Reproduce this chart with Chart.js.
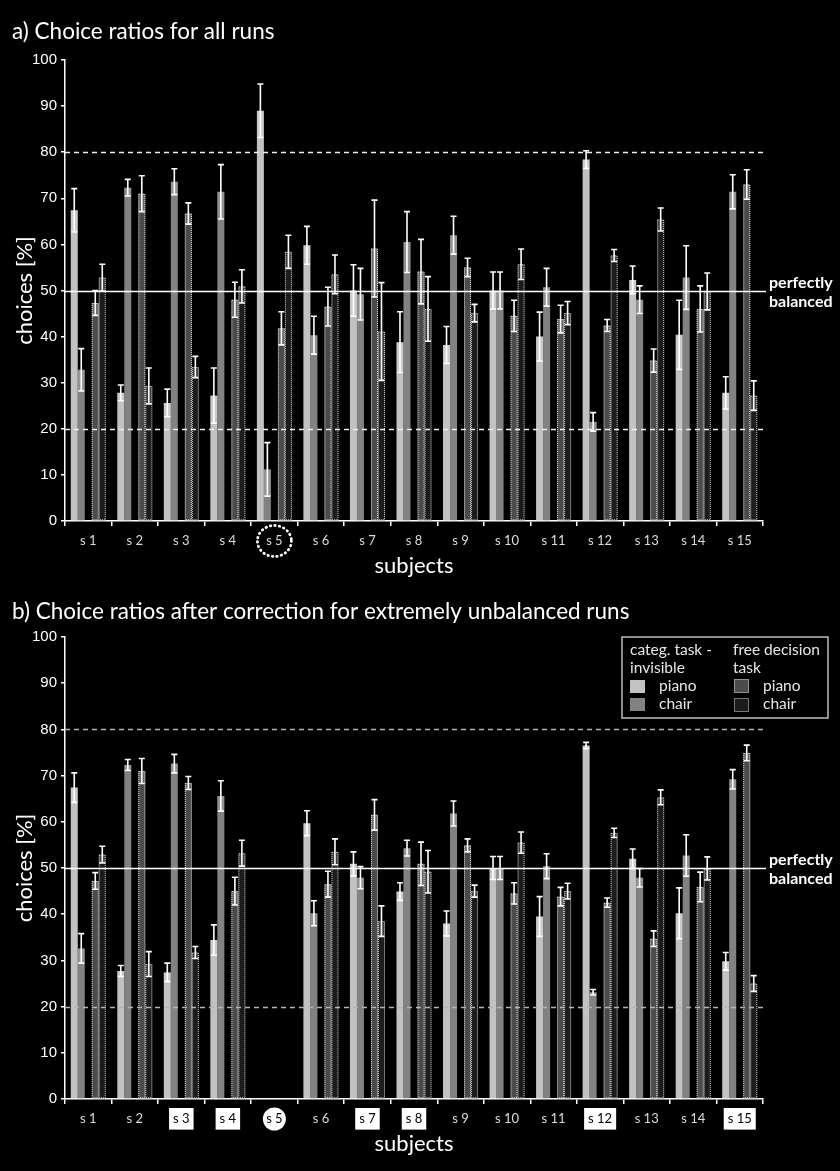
<!DOCTYPE html>
<html>
<head>
<meta charset="utf-8">
<script src="https://cdn.jsdelivr.net/npm/chart.js@4/dist/chart.umd.min.js"></script>
<style>
  html, body { margin: 0; padding: 0; background: #000; }
  canvas { display: block; }
</style>
</head>
<body>
<canvas id="chartA" width="840" height="590"></canvas>
<canvas id="chartB" width="840" height="581"></canvas>
<script>
const subjects = ["s 1", "s 2", "s 3", "s 4", "s 5", "s 6", "s 7", "s 8", "s 9", "s 10", "s 11", "s 12", "s 13", "s 14", "s 15"]
const yTicks = [0, 10, 20, 30, 40, 50, 60, 70, 80, 90, 100]

// a) all runs
const pianoCatA = [67.4, 27.8, 25.6, 27.2, 89.0, 59.8, 50.0, 38.8, 38.2, 50.0, 40.0, 78.4, 52.3, 40.4, 27.8]
const pianoCatErrA = [4.7, 1.7, 3.0, 6.0, 5.8, 4.1, 5.6, 6.6, 4.0, 4.0, 5.3, 1.9, 3.0, 7.5, 3.5]
const chairCatA = [32.8, 72.3, 73.6, 71.4, 11.2, 40.3, 49.2, 60.5, 62.0, 50.0, 50.7, 21.5, 48.0, 52.8, 71.4]
const chairCatErrA = [4.6, 1.8, 2.8, 5.9, 5.8, 4.1, 5.6, 6.6, 4.1, 4.0, 4.1, 2.0, 3.0, 6.9, 3.7]
const pianoFreeA = [47.3, 71.0, 66.7, 48.0, 41.8, 46.5, 59.1, 54.1, 55.0, 44.5, 43.8, 42.4, 34.8, 46.0, 73.0]
const pianoFreeErrA = [2.7, 3.9, 2.3, 3.8, 3.6, 4.2, 10.5, 7.0, 2.0, 3.4, 3.0, 1.3, 2.5, 5.0, 3.2]
const chairFreeA = [52.8, 29.3, 33.4, 50.9, 58.4, 53.5, 41.1, 46.0, 45.1, 55.7, 45.1, 57.6, 65.4, 49.8, 27.2]
const chairFreeErrA = [2.9, 3.9, 2.3, 3.6, 3.6, 4.2, 10.6, 7.0, 1.9, 3.3, 2.5, 1.3, 2.5, 4.0, 3.2]

// b) after correction (s 5 dropped)
const pianoCatB = [67.4, 27.7, 27.4, 34.4, null, 59.7, 50.9, 44.9, 38.0, 50.0, 39.5, 76.5, 52.0, 40.2, 29.8]
const pianoCatErrB = [3.2, 1.2, 2.0, 3.3, null, 2.7, 2.6, 1.9, 2.7, 2.5, 4.3, 0.7, 2.1, 5.5, 1.9]
const chairCatB = [32.6, 72.3, 72.6, 65.6, null, 40.2, 47.9, 54.3, 61.8, 50.0, 50.4, 23.1, 47.9, 52.7, 69.2]
const chairCatErrB = [3.2, 1.2, 2.0, 3.3, null, 2.7, 2.4, 1.7, 2.7, 2.5, 2.7, 0.6, 2.0, 4.5, 2.1]
const pianoFreeB = [47.2, 71.0, 68.4, 45.0, null, 46.5, 61.5, 50.9, 54.9, 44.5, 43.8, 42.5, 34.7, 45.9, 74.9]
const pianoFreeErrB = [1.8, 2.7, 1.4, 3.0, null, 2.8, 3.3, 4.7, 1.4, 2.3, 2.0, 1.0, 1.7, 3.2, 1.7]
const chairFreeB = [52.9, 29.2, 31.7, 53.2, null, 53.5, 38.5, 49.2, 45.0, 55.5, 45.0, 57.6, 65.3, 49.9, 25.0]
const chairFreeErrB = [1.8, 2.7, 1.3, 2.8, null, 2.8, 3.3, 4.6, 1.3, 2.3, 1.7, 1.0, 1.6, 2.5, 1.7]

// subjects whose labels get a white box in panel b
const boxedB = [2, 3, 6, 7, 11, 14]
const droppedSubject = 4

const colPianoCat = "#c2c2c2"
const colChairCat = "#828282"
const colPianoFree = "#4b4b4b"
const colChairFree = "#1c1c1c"

Chart.defaults.font.family = "Lato"
Chart.defaults.color = "#fff"

// dotted outline round the free decision bars
const dottedBars = {
    id: "dottedBars",
    afterDatasetsDraw(chart) {
        const ctx = chart.ctx
        ctx.save()
        ctx.setLineDash([1, 1])
        ctx.lineWidth = 1
        ctx.strokeStyle = "rgba(255,255,255,0.8)"
        chart.data.datasets.forEach((ds, i) => {
            if (!ds.dotted) return
            chart.getDatasetMeta(i).data.forEach((bar, j) => {
                if (ds.data[j] == null) return
                const w = bar.width
                ctx.strokeRect(bar.x - w / 2 + 0.5, bar.y + 0.5, w - 1, bar.base - bar.y - 1)
            })
        })
        ctx.restore()
    }
}

// 20 / 80 dashed, 50 solid + label
const refLines = {
    id: "refLines",
    afterDatasetsDraw(chart, args, opts) {
        const {ctx, chartArea: a, scales: {y}} = chart
        ctx.save()
        ctx.lineWidth = 1.5
        ctx.strokeStyle = opts.dashColor
        ctx.setLineDash([5, 4])
        ;[80, 20].forEach(v => {
            const py = Math.round(y.getPixelForValue(v)) + 0.5
            ctx.beginPath()
            ctx.moveTo(a.left, py)
            ctx.lineTo(a.right, py)
            ctx.stroke()
        })
        ctx.setLineDash([])
        ctx.strokeStyle = "#fff"
        const p50 = Math.round(y.getPixelForValue(50)) + 0.5
        ctx.beginPath()
        ctx.moveTo(a.left, p50)
        ctx.lineTo(a.right + 3, p50)
        ctx.stroke()
        ctx.fillStyle = "#fff"
        ctx.font = "bold 16px Lato"
        ctx.textBaseline = "middle"
        ctx.fillText("perfectly", a.right + 6, p50 - 8.5)
        ctx.fillText("balanced", a.right + 6, p50 + 10)
        ctx.restore()
    }
}

const errorBars = {
    id: "errorBars",
    afterDatasetsDraw(chart) {
        const {ctx, scales: {y}} = chart
        ctx.save()
        chart.data.datasets.forEach((ds, i) => {
            if (!ds.errors) return
            chart.getDatasetMeta(i).data.forEach((bar, j) => {
                const v = ds.data[j], e = ds.errors[j]
                if (v == null || e == null) return
                const hi = y.getPixelForValue(v + e)
                const lo = y.getPixelForValue(v - e)
                const half = bar.width / 2
                ctx.fillStyle = "rgba(255,255,255,0.15)"
                ctx.fillRect(bar.x - half, bar.y, bar.width, lo - bar.y)
                ctx.strokeStyle = "#fff"
                ctx.lineWidth = 1.6
                ctx.beginPath()
                ctx.moveTo(bar.x, hi)
                ctx.lineTo(bar.x, lo)
                ctx.moveTo(bar.x - half + 0.5, hi)
                ctx.lineTo(bar.x + half - 0.5, hi)
                ctx.moveTo(bar.x - half + 0.5, lo)
                ctx.lineTo(bar.x + half - 0.5, lo)
                ctx.stroke()
            })
        })
        ctx.restore()
    }
}

// circle round the s 5 label
const subjectMark = {
    id: "subjectMark",
    beforeDraw(chart, args, opts) {
        const ctx = chart.ctx
        const x = chart.scales.x.getPixelForTick(droppedSubject)
        const y = chart.chartArea.bottom + 20
        ctx.save()
        ctx.beginPath()
        if (opts.style === "dotted") {
            ctx.ellipse(x, y, 17, 15.5, 0, 0, Math.PI * 2)
            ctx.setLineDash([0.5, 4])
            ctx.lineCap = "round"
            ctx.lineWidth = 2.8
            ctx.strokeStyle = "#fff"
            ctx.stroke()
        } else if (opts.style === "filled") {
            ctx.arc(x, y, 11.5, 0, Math.PI * 2)
            ctx.fillStyle = "#fff"
            ctx.fill()
        }
        ctx.restore()
    }
}

const legendBox = {
    id: "legendBox",
    afterDraw(chart, args, opts) {
        if (!opts.show) return
        const {ctx, chartArea: a} = chart
        const ds = chart.data.datasets
        const left = a.right - 141, top = a.top
        ctx.save()
        ctx.strokeStyle = "#bdbdbd"
        ctx.lineWidth = 1.5
        ctx.strokeRect(left, top, 206, 81)
        ctx.fillStyle = "#e6e6e6"
        ctx.font = "15.5px Lato"
        ctx.textBaseline = "middle"
        ctx.fillText("categ. task -", left + 8, top + 13)
        ctx.fillText("invisible", left + 8, top + 31)
        ctx.fillText("piano", left + 37, top + 49)
        ctx.fillText("chair", left + 37, top + 67)
        ctx.fillText("free decision", left + 111, top + 13)
        ctx.fillText("task", left + 111, top + 31)
        ctx.fillText("piano", left + 141, top + 49)
        ctx.fillText("chair", left + 141, top + 67)
        ctx.fillStyle = ds[0].backgroundColor
        ctx.fillRect(left + 8, top + 43, 15, 13)
        ctx.fillStyle = ds[1].backgroundColor
        ctx.fillRect(left + 8, top + 61, 15, 13)
        ctx.fillStyle = ds[3].backgroundColor
        ctx.fillRect(left + 112, top + 42, 15, 14)
        ctx.fillStyle = ds[4].backgroundColor
        ctx.fillRect(left + 112, top + 61, 15, 14)
        ctx.setLineDash([1, 1])
        ctx.lineWidth = 1
        ctx.strokeStyle = "rgba(255,255,255,0.8)"
        ctx.strokeRect(left + 112.5, top + 42.5, 14, 13)
        ctx.strokeRect(left + 112.5, top + 61.5, 14, 13)
        ctx.restore()
    }
}

function makeChart(id, title, series, panel) {
    const isB = panel === "b"
    const datasets = [
        {label: "piano", data: series[0], errors: series[1], backgroundColor: colPianoCat},
        {label: "chair", data: series[2], errors: series[3], backgroundColor: colChairCat},
        {label: "", data: []},
        {label: "piano", data: series[4], errors: series[5], backgroundColor: colPianoFree, dotted: true},
        {label: "chair", data: series[6], errors: series[7], backgroundColor: colChairFree, dotted: true}
    ]
    return new Chart(document.getElementById(id), {
        type: "bar",
        data: {labels: subjects, datasets: datasets},
        options: {
            responsive: false,
            animation: false,
            events: [],
            datasets: {bar: {categoryPercentage: 0.753, barPercentage: 1, borderWidth: 0}},
            layout: {padding: {left: 12, right: 77, top: 0, bottom: isB ? 10 : 7}},
            scales: {
                x: {
                    grid: {offset: true, drawOnChartArea: false, color: "#fff", tickLength: 5, lineWidth: 1.5},
                    border: {color: "#fff", width: 1.5},
                    ticks: {
                        padding: 7,
                        font: {size: 13},
                        color: ctx => isB && (boxedB.includes(ctx.index) || ctx.index === droppedSubject) ? "#000" : "#dcdcdc",
                        showLabelBackdrop: ctx => isB && boxedB.includes(ctx.index),
                        backdropColor: "#fff",
                        backdropPadding: {x: 4, y: 3}
                    },
                    title: {display: true, text: "subjects", color: "#fff", font: {size: 22}, padding: {top: -3, bottom: 4}}
                },
                y: {
                    min: 0,
                    max: 100,
                    afterBuildTicks: s => { s.ticks = yTicks.map(v => ({value: v})) },
                    afterFit: s => { s.width = 53 },
                    grid: {drawOnChartArea: false, color: "#fff", tickLength: 4, lineWidth: 1.5},
                    border: {color: "#fff", width: 1.5},
                    ticks: {padding: 4, color: "#fff", font: {family: "Liberation Sans", size: 15}},
                    title: {display: true, text: "choices [%]", color: "#fff", font: {size: 22}, padding: {top: 0, bottom: 0}}
                }
            },
            plugins: {
                legend: {display: false},
                tooltip: {enabled: false},
                title: {
                    display: true, text: title, align: "start", color: "#fff",
                    font: {size: 22.5, weight: "normal"},
                    padding: isB ? {top: 8.5, bottom: 11.5} : {top: 18.5, bottom: 14.5}
                },
                refLines: {dashColor: isB ? "#b4b4b4" : "#f0f0f0"},
                subjectMark: {style: isB ? "filled" : "dotted"},
                legendBox: {show: isB}
            }
        },
        plugins: [dottedBars, refLines, errorBars, subjectMark, legendBox]
    })
}

makeChart("chartA", "a) Choice ratios for all runs",
    [pianoCatA, pianoCatErrA, chairCatA, chairCatErrA, pianoFreeA, pianoFreeErrA, chairFreeA, chairFreeErrA], "a")
makeChart("chartB", "b) Choice ratios after correction for extremely unbalanced runs",
    [pianoCatB, pianoCatErrB, chairCatB, chairCatErrB, pianoFreeB, pianoFreeErrB, chairFreeB, chairFreeErrB], "b")
</script>
</body>
</html>
